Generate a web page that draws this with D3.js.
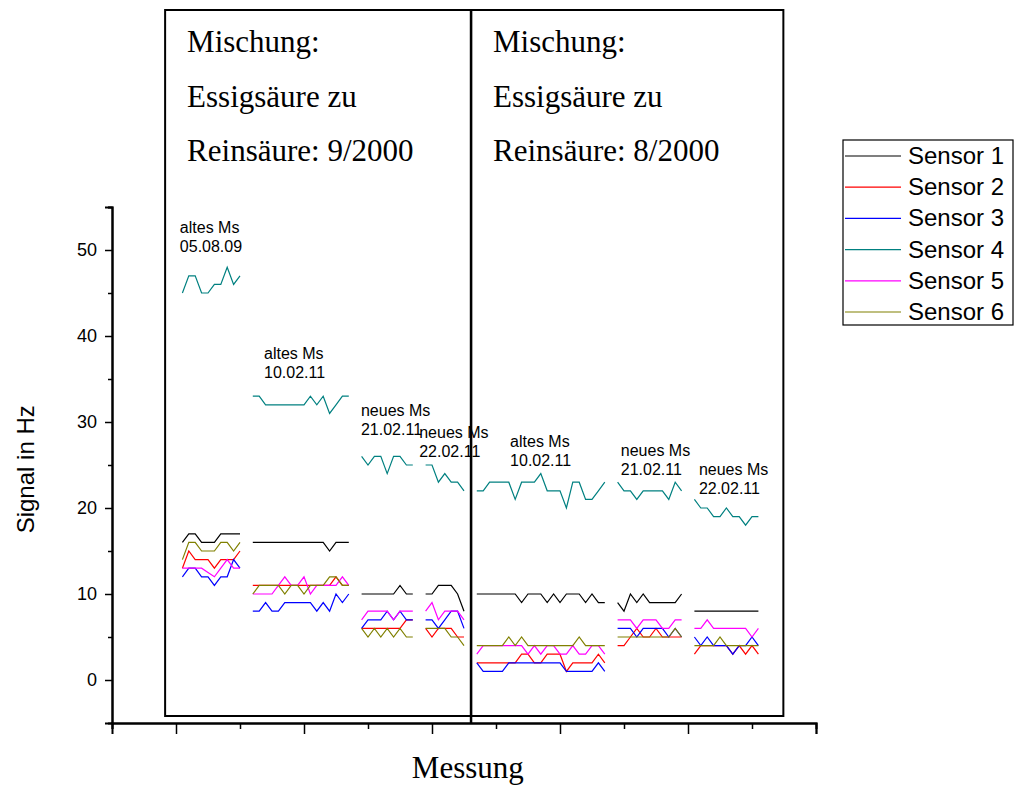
<!DOCTYPE html>
<html>
<head>
<meta charset="utf-8">
<script src="https://cdn.jsdelivr.net/npm/d3@7"></script>
<style>
  body { margin: 0; background: #fff; }
  svg text { fill: #000; }
</style>
</head>
<body>
<div class="canvas"></div>
<script>
// data
const sensorNames = ["Sensor 1", "Sensor 2", "Sensor 3", "Sensor 4", "Sensor 5", "Sensor 6"];
const sensorColors = ["#000000", "#ff0000", "#0000ff", "#008080", "#ff00ff", "#808000"];

// first measurement index of each block
const groupStart = [1, 12, 29, 39, 47, 69, 81];
const groupLabels = [
  ["altes Ms", "05.08.09"], ["altes Ms", "10.02.11"], ["neues Ms", "21.02.11"],
  ["neues Ms", "22.02.11"], ["altes Ms", "10.02.11"], ["neues Ms", "21.02.11"], ["neues Ms", "22.02.11"]
];
const boxTitles = [
  ["Mischung:", "Essigsäure zu", "Reinsäure: 9/2000"],
  ["Mischung:", "Essigsäure zu", "Reinsäure: 8/2000"]
];
const yTicks = [0, 10, 20, 30, 40, 50];

const sensor1 = [
  [16,17,17,16,16,16,17,17,17,17],
  [16,16,16,16,16,16,16,16,16,16,16,16,15,16,16,16],
  [10,10,10,10,10,10,11,10,10],
  [10,10,11,11,11,10,8],
  [10,10,10,10,10,10,10,9,10,10,10,9,10,9,10,10,10,9,10,9,9],
  [9,8,10,9,10,9,9,9,9,9,10],
  [8,8,8,8,8,8,8,8,8,8,8]
];
const sensor2 = [
  [13,15,14,14,14,13,14,14,14,15],
  [11,11,11,11,11,11,11,11,11,11,11,11,11,12,11,11],
  [6,6,6,6,6,6,6,7,7],
  [6,5,6,6,6,5,5],
  [2,2,2,2,2,2,2,3,3,2,2,3,3,3,1,2,2,2,2,3,2],
  [4,4,5,6,5,5,6,5,5,5,5],
  [3,4,4,4,4,4,3,4,3,4,3]
];
const sensor3 = [
  [12,13,13,12,12,11,12,12,14,13],
  [8,8,9,8,8,9,9,9,9,9,8,9,8,10,9,10],
  [6,7,7,7,8,7,8,7,7],
  [7,7,6,7,8,8,6],
  [2,1,1,1,1,2,2,2,2,2,2,2,2,2,1,1,1,1,1,2,1],
  [6,6,6,5,6,6,6,6,5,6,5],
  [5,4,5,4,4,4,3,4,4,5,4]
];
const sensor4 = [
  [45,47,47,45,45,46,46,48,46,47],
  [33,33,32,32,32,32,32,32,32,33,32,33,31,32,33,33],
  [26,25,26,26,24,26,26,25,25],
  [25,25,23,24,23,23,22],
  [22,22,23,23,23,23,21,23,23,23,24,22,22,22,20,23,23,21,21,22,23],
  [23,22,22,21,22,22,22,22,21,23,22],
  [21,20,20,19,19,20,19,19,18,19,19]
];
const sensor5 = [
  [13,13,13,13,12.5,12,13,14,13,13],
  [10,10,10,10,11,12,11,11,12,10,11,11,11,11,12,11],
  [7,8,8,8,8,7,8,8,8],
  [8,9,7,8,8,8,7],
  [3,4,4,4,4,4,4,4,3,4,3,4,4,3,3,4,3,3,4,4,3],
  [7,7,7,6,7,7,7,6,6,7,7],
  [6,6,7,6,6,6,6,6,6,5,6]
];
const sensor6 = [
  [14,16,16,15,15,15,16,16,15,16],
  [10,11,11,11,11,10,11,11,10,11,11,11,12,12,11,11],
  [6,5,6,5,6,5,6,5,5],
  [6,6,6,6,5,5,4],
  [4,4,4,4,4,5,4,5,4,4,4,4,4,4,4,4,5,4,4,4,4],
  [5,5,5,5,5,5,5,5,5,6,5],
  [4,4,4,4,5,4,4,4,4,4,4]
];
const sensors = [sensor1, sensor2, sensor3, sensor4, sensor5, sensor6];

// layout
const width = 1018, height = 785;
const sans = "'Liberation Sans', Arial, sans-serif";
const serif = "'Liberation Serif', 'Times New Roman', serif";

const svg = d3.select('.canvas').append('svg')
    .attr('width', width)
    .attr('height', height)

const x = d3.scaleLinear().domain([-10, 100]).range([112, 816]);
const y = d3.scaleLinear().domain([-5, 55]).range([723, 207]);

// frames of the two mixtures
const boxes = [[-1.7, 46.1], [46.1, 94.9]];
boxes.forEach((b, i) => {
  svg.append('rect')
    .attr('x', x(b[0]))
    .attr('y', 10)
    .attr('width', x(b[1]) - x(b[0]))
    .attr('height', 706)
    .attr('fill', 'none')
    .attr('stroke', '#000')
    .attr('stroke-width', 2)

  boxTitles[i].forEach((t, j) => {
    svg.append('text')
      .attr('x', x(b[0]) + 22)
      .attr('y', 52 + j * 54.5)
      .attr('font-family', serif)
      .attr('font-size', 31)
      .text(t)
  })
})
// divider
svg.append('line')
  .attr('x1', x(46.1)).attr('x2', x(46.1))
  .attr('y1', 10).attr('y2', 723)
  .attr('stroke', '#000')
  .attr('stroke-width', 2.5)

// axes
const xAxis = d3.axisBottom(x)
  .tickValues(d3.range(0, 101, 20))
  .tickSize(11)
  .tickFormat('')
const xMinor = d3.axisBottom(x)
  .tickValues(d3.range(-10, 100, 20))
  .tickSize(6)
  .tickFormat('')

svg.append('g').attr('transform', `translate(0,${y(-5)})`).call(xAxis)
svg.append('g').attr('transform', `translate(0,${y(-5)})`).call(xMinor)

const yAxis = d3.axisLeft(y)
  .tickValues(yTicks)
  .tickSize(7)
  .tickPadding(8)
const yMinor = d3.axisLeft(y)
  .tickValues(d3.range(5, 56, 10))
  .tickSize(4)
  .tickFormat('')

const yAxisGroup = svg.append('g').attr('transform', `translate(${x(-10)},0)`).call(yAxis)
svg.append('g').attr('transform', `translate(${x(-10)},0)`).call(yMinor)

svg.selectAll('.domain').attr('stroke', '#000').attr('stroke-width', 2)
svg.selectAll('.tick line').attr('stroke', '#000').attr('stroke-width', 1.5)
yAxisGroup.selectAll('text')
  .attr('font-family', sans)
  .attr('font-size', 18)
  .attr('fill', '#000')

svg.append('text')
  .attr('transform', `translate(34,${y(24.5)}) rotate(-90)`)
  .attr('text-anchor', 'middle')
  .attr('font-family', sans)
  .attr('font-size', 24)
  .text('Signal in Hz')

svg.append('text')
  .attr('x', x(45.6))
  .attr('y', 778)
  .attr('text-anchor', 'middle')
  .attr('font-family', serif)
  .attr('font-size', 31)
  .text('Messung')

// lines
const line = d3.line()
  .x(d => x(d[0]))
  .y(d => y(d[1]))

sensors.forEach((s, si) => {
  s.forEach((vals, gi) => {
    const pts = vals.map((v, k) => [groupStart[gi] + k, v])
    svg.append('path')
      .datum(pts)
      .attr('d', line)
      .attr('fill', 'none')
      .attr('stroke', sensorColors[si])
      .attr('stroke-width', 1.2)
  })
})

// block labels, placed above the teal line of each block
const labelOffset = [[-0.4, 34], [1.75, 37], [-0.1, 40], [-1, 27], [5.2, 27], [0.5, 26], [0.7, 24]];
groupLabels.forEach((lab, gi) => {
  const top = d3.max(sensor4[gi]);
  lab.forEach((t, j) => {
    svg.append('text')
      .attr('x', x(groupStart[gi] + labelOffset[gi][0]))
      .attr('y', y(top) - labelOffset[gi][1] + j * 19)
      .attr('font-family', sans)
      .attr('font-size', 16)
      .text(t)
  })
})

// legend
const legend = svg.append('g').attr('transform', 'translate(843,140)')
legend.append('rect')
  .attr('width', 170)
  .attr('height', 185)
  .attr('fill', '#fff')
  .attr('stroke', '#000')
  .attr('stroke-width', 1.2)

sensorNames.forEach((n, i) => {
  const ly = 16 + i * 31.2;
  legend.append('line')
    .attr('x1', 2).attr('x2', 58)
    .attr('y1', ly).attr('y2', ly)
    .attr('stroke', sensorColors[i])
    .attr('stroke-width', 1.2)
  legend.append('text')
    .attr('x', 65)
    .attr('y', ly + 8)
    .attr('font-family', sans)
    .attr('font-size', 24)
    .text(n)
})
</script>
</body>
</html>
